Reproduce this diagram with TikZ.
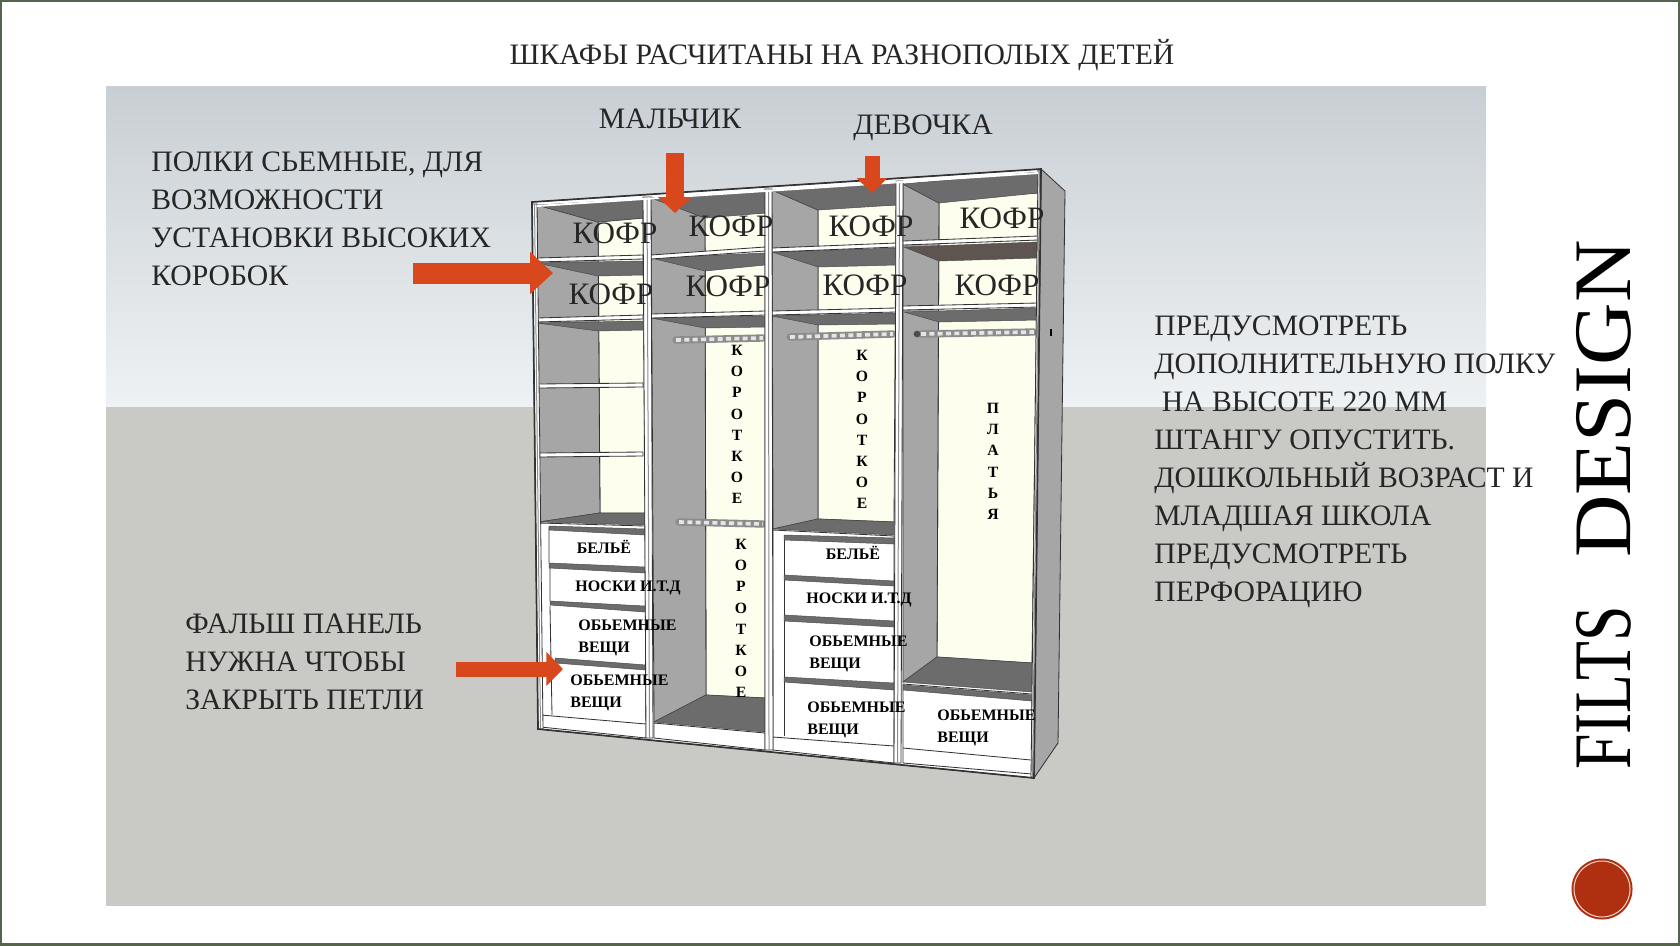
\documentclass[tikz,border=0pt]{standalone}
\usepackage{fontspec}
\usepackage{graphicx}
\setmainfont{Liberation Serif}
\usetikzlibrary{arrows.meta}
\definecolor{frameline}{HTML}{56644C}
\definecolor{skytop}{HTML}{C8CFD4}
\definecolor{skylow}{HTML}{EFF2F4}
\definecolor{ground}{HTML}{C9CAC5}
\definecolor{sidewall}{HTML}{A6A6A6}
\definecolor{backwall}{HTML}{FEFEEE}
\definecolor{undershelf}{HTML}{6C6C6C}
\definecolor{brownshelf}{HTML}{5E5550}
\definecolor{pointer}{HTML}{D9481C}
\definecolor{badge}{HTML}{AE3010}
\tikzstyle{every node}=[anchor=west, inner sep=0pt, text=black!85]
\tikzstyle{caption}=[font={\fontsize{17.8}{22.8}\selectfont}, align=left]
\tikzstyle{heading}=[caption, anchor=center]
\tikzstyle{trunk}=[anchor=center, font={\fontsize{18.7}{22}\selectfont}]
\tikzstyle{drawer}=[align=left, text=black, font={\bfseries\fontsize{9.6}{12.8}\selectfont}]
\tikzstyle{upright}=[anchor=north, align=center, text=black, font={\bfseries\fontsize{9.4}{12.7}\selectfont}]
\tikzstyle{wall}=[draw=black!80, line width=0.5pt]
\tikzstyle{undercut}=[fill=undershelf, draw=black!70, line width=0.3pt]
\tikzstyle{board}=[fill=white, draw=black!80, line width=0.5pt]
\tikzstyle{rail}=[line width=4.4pt, draw=black!45, line cap=round]
\tikzstyle{railshine}=[line width=2.2pt, draw=white!90!black, dash pattern=on 3pt off 2pt]
\tikzstyle{arrowbar}=[draw=pointer, line width=12.6pt, -{Triangle[length=13.8pt, width=24.6pt]}]
\begin{document}
\begin{tikzpicture}[x=0.6pt, y=-0.6pt]
    \useasboundingbox (0,0) rectangle (1680,945);
    \fill[white] (0,0) rectangle (1680,945);
    \draw[frameline, line width=1.6pt] (0.8,0.8) rectangle (1679.2,944.2);
    % backdrop
    \shade[top color=skytop, bottom color=skylow] (106,86) rectangle (1486,408);
    \fill[ground] (106,407) rectangle (1486,906);

    % cabinet body
    \filldraw[board] (532,202) -- (1041,169) -- (1034,778) -- (538,729) -- cycle;
    \filldraw[wall, fill=sidewall] (1041,169) -- (1065,191) -- (1058,743) -- (1034,778) -- cycle;
    \fill[black] (1050,329) rectangle (1052,336);

    % back walls and side walls
    \foreach \ax/\ay/\bx/\by/\cx/\cy/\dx/\dy in {
        598/222/643/218/645/513/600/513,
        705/213/765/213/765/698/706/695,
        818/205/896/205/894/522/818/519,
        939/198/1038/193/1032/663/937/657}
        \filldraw[wall, fill=backwall] (\ax,\ay) -- (\bx,\by) -- (\cx,\cy) -- (\dx,\dy) -- cycle;
    \foreach \ax/\ay/\bx/\by/\cx/\cy/\dx/\dy in {
        537/205/598/222/600/513/539/522,
        651/197/705/218/706/695/654/722,
        772/190/818/210/818/519/773/529,
        903/184/939/203/937/657/903/682}
        \filldraw[wall, fill=sidewall] (\ax,\ay) -- (\bx,\by) -- (\cx,\cy) -- (\dx,\dy) -- cycle;

    % shelf undersides
    \foreach \ax/\ay/\bx/\by/\cx/\cy/\dx/\dy in {
        537/205/643/199/643/218/598/222,
        537/263/643/261/643/275/598/276,
        537/323/643/321/643/330/598/331,
        651/198/765/191/765/213/705/218,
        651/258/765/253/765/265/705/271,
        651/318/765/316/765/327/705/328,
        772/190/896/183/896/205/818/210,
        772/252/896/248/896/265/818/267,
        772/316/896/313/896/324/818/325,
        903/184/1038/172/1038/193/939/203,
        904/312/1038/308/1038/320/939/322,
        539/522/600/513/645/513/645/525,
        773/529/818/519/894/522/894/535,
        903/682/937/657/1032/663/1032/692,
        654/722/706/695/765/698/765/732}
        \filldraw[undercut] (\ax,\ay) -- (\bx,\by) -- (\cx,\cy) -- (\dx,\dy) -- cycle;
    \filldraw[undercut, fill=brownshelf] (904,247) -- (1038,242) -- (1038,258) -- (939,261) -- cycle;

    % shelf fronts
    \foreach \ax/\ay/\bx/\by in {
        537/258/643/255, 537/318/643/315, 537/384/643/383, 537/453/643/452,
        651/255/765/247, 651/314/765/311,
        772/248/896/243, 772/311/896/308,
        903/241/1038/236, 903/306/1038/303}
        \filldraw[board] (\ax,\ay) -- (\bx,\by) -- (\bx,\by+4) -- (\ax,\ay+4) -- cycle;

    % plinths and drawer stacks
    \filldraw[board] (539,523) -- (645,526) -- (646,738) -- (541,727) -- cycle;
    \filldraw[board] (773,530) -- (894,536) -- (894,763) -- (773,750) -- cycle;
    \filldraw[board] (903,684) -- (1032,694) -- (1032,774) -- (903,763) -- cycle;
    \filldraw[board] (654,723) -- (765,733) -- (765,750) -- (654,738) -- cycle;
    \draw[wall] (549,527) -- (549,563) (550,568) -- (550,601) (550,606) -- (552,715);
    \draw[wall] (784,536) -- (784,736);
    \draw[wall] (541,715) -- (646,724) (773,737) -- (894,746) (903,748) -- (1031,760);
    \foreach \ax/\ay/\bx/\by/\cx/\cy/\dx/\dy in {
        549/526/645/529/645/535/549/530,
        549/563/645/567/645/573/549/568,
        550/601/645/606/645/612/550/605,
        555/658/646/665/646/670/555/663,
        784/535/894/538/894/544/784/540,
        784/575/894/581/894/586/784/580,
        784/615/894/621/894/627/784/621,
        784/677/894/683/894/690/784/682,
        903/685/1032/695/1032/701/903/690}
        \filldraw[undercut] (\ax,\ay) -- (\bx,\by) -- (\cx,\cy) -- (\dx,\dy) -- cycle;

    % rails
    \foreach \ax/\ay/\bx/\by in {676/340/763/338, 679/522/763/524, 790/337/893/334, 921/334/1034/332} {
        \draw[rail] (\ax,\ay) -- (\bx,\by);
        \draw[railshine] (\ax,\ay) -- (\bx,\by);
    }
    \fill[black!70] (917,334) circle (2pt);

    % uprights
    \foreach \ax/\bx/\ay/\cx/\dx/\cy in {
        532/537/204/543/538/729,
        643/651/197/653/646/738,
        765/772/189/773/765/750,
        896/903/181/901/894/763,
        1038/1041/170/1034/1031/777} {
        \filldraw[board] (\ax,\ay) -- (\bx,\ay) -- (\cx,\cy) -- (\dx,\cy) -- cycle;
        \draw[black!45, line width=0.6pt] ({(\ax+\bx)/2},\ay) -- ({(\cx+\dx)/2},\cy);
    }
    \draw[wall, line width=1pt] (532,202) -- (1041,169) -- (1034,778) -- (538,729) -- cycle;
    \draw[white, line width=1.2pt] (537,206) -- (1038,173);

    % texts on the cabinet
    \node [trunk] (trunkA) at (615,233) {КОФР};
    \node [trunk] (trunkB) at (731,226) {КОФР};
    \node [trunk] (trunkC) at (871,226) {КОФР};
    \node [trunk] (trunkD) at (1002,218) {КОФР};
    \node [trunk] (trunkE) at (611,294) {КОФР};
    \node [trunk] (trunkF) at (728,286) {КОФР};
    \node [trunk] (trunkG) at (865,285) {КОФР};
    \node [trunk] (trunkH) at (997,285) {КОФР};
    \node [upright] (shortA) at (737,345) {К\\О\\Р\\О\\Т\\К\\О\\Е};
    \node [upright] (shortB) at (862,350) {К\\О\\Р\\О\\Т\\К\\О\\Е};
    \node [upright] (shortC) at (741,539) {К\\О\\Р\\О\\Т\\К\\О\\Е};
    \node [upright] (dresses) at (993,403) {П\\Л\\А\\Т\\Ь\\Я};
    \node [drawer, anchor=center] (linenA) at (604,547) {БЕЛЬЁ};
    \node [drawer, anchor=center] (linenB) at (853,553) {БЕЛЬЁ};
    \node [drawer, anchor=center] (socksA) at (628,588) {НОСКИ И.Т.Д};
    \node [drawer, anchor=center] (socksB) at (859,600) {НОСКИ И.Т.Д};
    \node [drawer] (bulkA) at (578,638) {ОБЬЕМНЫЕ\\ВЕЩИ};
    \node [drawer] (bulkB) at (570,693) {ОБЬЕМНЫЕ\\ВЕЩИ};
    \node [drawer] (bulkC) at (809,654) {ОБЬЕМНЫЕ\\ВЕЩИ};
    \node [drawer] (bulkD) at (807,720) {ОБЬЕМНЫЕ\\ВЕЩИ};
    \node [drawer] (bulkE) at (937,728) {ОБЬЕМНЫЕ\\ВЕЩИ};

    % captions
    \node [heading] (title) at (842,55) {ШКАФЫ РАСЧИТАНЫ НА РАЗНОПОЛЫХ ДЕТЕЙ};
    \node [heading] (boy) at (670,119) {МАЛЬЧИК};
    \node [heading] (girl) at (923,128) {ДЕВОЧКА};
    \node [caption] (shelves) at (151,219) {ПОЛКИ СЬЕМНЫЕ, ДЛЯ\\ВОЗМОЖНОСТИ\\УСТАНОВКИ ВЫСОКИХ\\КОРОБОК};
    \node [caption] (panel) at (185,662) {ФАЛЬШ ПАНЕЛЬ\\НУЖНА ЧТОБЫ\\ЗАКРЫТЬ ПЕТЛИ};
    \node [caption] (extra) at (1154,462) {ПРЕДУСМОТРЕТЬ\\ДОПОЛНИТЕЛЬНУЮ ПОЛКУ\\\ НА ВЫСОТЕ 220 ММ\\ШТАНГУ ОПУСТИТЬ.\\ДОШКОЛЬНЫЙ ВОЗРАСТ И\\МЛАДШАЯ ШКОЛА\\ПРЕДУСМОТРЕТЬ\\ПЕРФОРАЦИЮ};

    % arrows
    \coordinate (boyTail) at (675,153);
    \coordinate (boyTip) at (675,213);
    \coordinate (girlTail) at (872,156);
    \coordinate (girlTip) at (872,193);
    \coordinate (shelfTail) at (413,273);
    \coordinate (shelfTip) at (553,273);
    \coordinate (panelTail) at (456,669);
    \coordinate (panelTip) at (563,669);
    \draw[arrowbar, line width=10.8pt, -{Triangle[length=9.6pt, width=20pt]}] (boyTail) -- (boyTip);
    \draw[arrowbar, line width=9pt, -{Triangle[length=9pt, width=18pt]}] (girlTail) -- (girlTip);
    \draw[arrowbar] (shelfTail) -- (shelfTip);
    \draw[arrowbar, line width=9pt, -{Triangle[length=10pt, width=19.8pt]}] (panelTail) -- (panelTip);

    % brand
    \node [rotate=90, anchor=center, font={\fontsize{49}{49}\selectfont}, text=black] (brand) at (1604,505) {\scalebox{.78}[1]{FILTS}\hspace{29pt}\scalebox{1.06}[1]{DESIGN}};
    \node [circle, anchor=center, fill=badge, minimum size=36.6pt] (badgeDot) at (1602,889) {};
    \draw[white!80!badge, line width=0.6pt] (badgeDot.center) circle (16.8pt);
\end{tikzpicture}
\end{document}
